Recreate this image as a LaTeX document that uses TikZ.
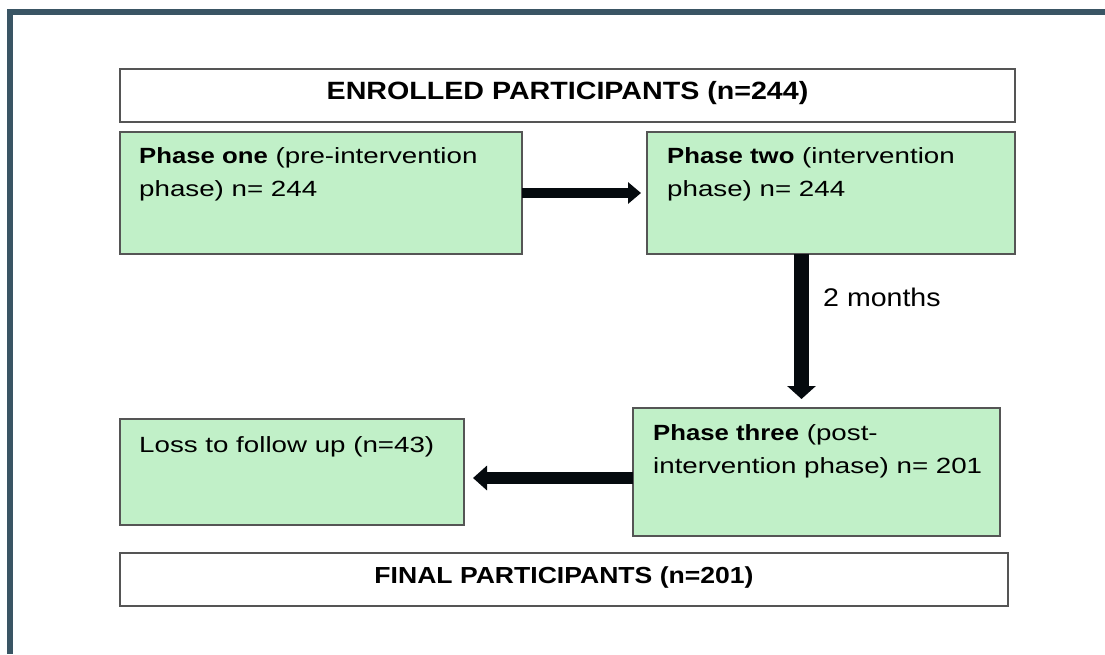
\documentclass[tikz,border=0pt]{standalone}
\usepackage{fontspec}
\setmainfont{Liberation Sans}
\newfontfamily\hdfont{Liberation Sans}[FakeStretch=1.145]
\newfontfamily\lbfont{Liberation Sans}[FakeStretch=1.12]
\newfontfamily\bdfont{Liberation Sans}[FakeStretch=1.26, BoldFeatures={FakeStretch=1.17}]
\usetikzlibrary{arrows.meta,calc}
\definecolor{framec}{HTML}{3A5564}
\definecolor{pgreen}{HTML}{C1F0C8}
\definecolor{edgec}{HTML}{555555}
\definecolor{arrowc}{HTML}{050A0E}
\begin{document}
\begin{tikzpicture}[x=1pt,y=-1pt,
  box/.style={draw=edgec, line width=1.1pt, anchor=north west, inner sep=0pt, outer sep=0pt},
  gbox/.style={box, fill=pgreen},
  wbox/.style={box, fill=white},
  body/.style={anchor=base west, inner sep=0pt, align=left, font=\bdfont\fontsize{22}{33}\selectfont},
  head/.style={inner sep=0pt, font=\hdfont\bfseries\fontsize{25}{28}\selectfont},
  blk/.style n args={3}{draw=arrowc, line width=#1, -{Triangle[width=#2, length=#3]}}]
\useasboundingbox (0,0) rectangle (1105,654);
\fill[white] (0,0) rectangle (1105,654);
\fill[framec] (7,9) rectangle (1105,15);
\fill[framec] (7,9) rectangle (13,654);

\node[wbox, minimum width=895, minimum height=53] (enr) at (120,69) {};
\node[head] (enrt) at ($(enr.center)+(0,-2)$) {ENROLLED PARTICIPANTS (n=244)};

\node[gbox, minimum width=402, minimum height=122] (p1) at (120,132) {};
\node[body] (p1t) at ($(p1.north west)+(19,64)$) {\textbf{Phase one} (pre-intervention\\phase) n= 244};

\node[gbox, minimum width=368, minimum height=122] (p2) at (647,132) {};
\node[body] (p2t) at ($(p2.north west)+(20,64)$) {\textbf{Phase two} (intervention\\phase) n= 244};

\node[gbox, minimum width=367, minimum height=128] (p3) at (633,408) {};
\node[body] (p3t) at ($(p3.north west)+(20,65)$) {\textbf{Phase three} (post-\\intervention phase) n= 201};

\node[gbox, minimum width=344, minimum height=106] (loss) at (120,419) {};
\node[body] (losst) at ($(loss.north west)+(19,33)$) {Loss to follow up (n=43)};

\node[wbox, minimum width=888, minimum height=53] (fin) at (120,553) {};
\node[head, font=\hdfont\bfseries\fontsize{23.2}{26}\selectfont] (fint) at ($(fin.center)+(0,-2)$) {FINAL PARTICIPANTS (n=201)};

\draw[blk={10pt}{21pt}{13pt}] (p1.east) -- ($(p2.west)+(-6,0)$);
\coordinate (dx) at (801.5,0);
\draw[blk={15pt}{28pt}{13pt}] (p2.south -| dx) -- ($(p3.north -| dx)+(0,-9)$);
\node[anchor=base west, inner sep=0pt, font=\lbfont\fontsize{25.5}{28}\selectfont] (lbl) at (823,306.5) {2 months};
\draw[blk={12pt}{24pt}{14pt}] ($(p3.west)+(0,6)$) -- ($(loss.east)+(9,6)$);
\end{tikzpicture}
\end{document}
